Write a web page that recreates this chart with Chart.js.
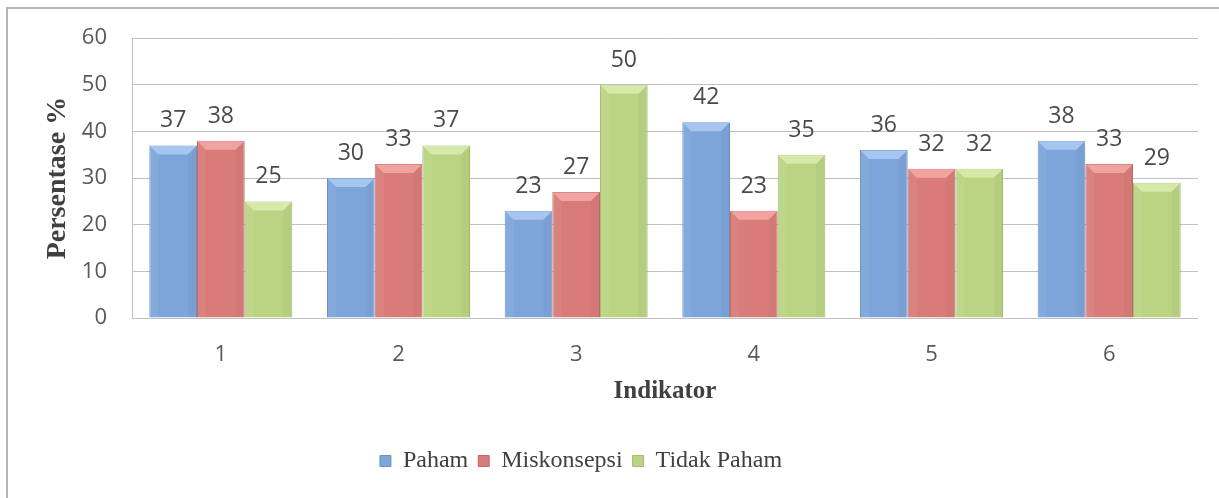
<!DOCTYPE html>
<html>
<head>
<meta charset="utf-8">
<script src="https://cdn.jsdelivr.net/npm/chart.js@4/dist/chart.umd.min.js"></script>
<style>
  html, body { margin: 0; padding: 0; background: #ffffff; }
  #wrap { position: relative; width: 1219px; height: 498px; }
</style>
</head>
<body>
<div id="wrap"><canvas id="c" width="1219" height="498"></canvas></div>
<script>
const categories = ['1', '2', '3', '4', '5', '6'];
const paham = [37, 30, 23, 42, 36, 38];
const miskonsepsi = [38, 33, 27, 23, 32, 33];
const tidakPaham = [25, 37, 50, 35, 32, 29];
const yTicks = [0, 10, 20, 30, 40, 50, 60];

const seriesStyle = [
  { fill: '#7ea5da', top: '#a6c6f0', edge: '#6a90c6' },
  { fill: '#d97c79', top: '#f0a3a0', edge: '#c06a67' },
  { fill: '#bbd483', top: '#d6e9a8', edge: '#a3bd6c' }
];

const framePlugin = {
  id: 'frame',
  beforeDraw(chart) {
    const ctx = chart.ctx;
    ctx.save();
    ctx.fillStyle = '#ffffff';
    ctx.fillRect(0, 0, chart.width, chart.height);
    ctx.strokeStyle = '#b4b4b4';
    ctx.lineWidth = 2;
    ctx.beginPath();
    ctx.moveTo(7, chart.height);
    ctx.lineTo(7, 8);
    ctx.lineTo(chart.width, 8);
    ctx.stroke();
    ctx.restore();
  },
  afterLayout(chart) {
    const lg = chart.legend;
    if (lg) { lg.left -= 18; lg.right -= 18; }
  }
};

const bevelPlugin = {
  id: 'bevel',
  afterDatasetsDraw(chart) {
    const ctx = chart.ctx;
    ctx.save();
    chart.data.datasets.forEach((ds, di) => {
      const meta = chart.getDatasetMeta(di);
      const st = seriesStyle[di];
      meta.data.forEach((el, idx) => {
        const p = el.getProps(['x', 'y', 'base', 'width'], true);
        const L = p.x - p.width / 2, R = p.x + p.width / 2;
        const T = Math.min(p.y, p.base), B = Math.max(p.y, p.base);
        const b = Math.min(9, (B - T) / 2);
        // top bevel
        ctx.fillStyle = st.top;
        ctx.beginPath();
        ctx.moveTo(L + 0.5, T + 0.5); ctx.lineTo(R - 0.5, T + 0.5);
        ctx.lineTo(R - b, T + b); ctx.lineTo(L + b, T + b); ctx.closePath();
        ctx.fill();
        // left light strip
        ctx.fillStyle = 'rgba(255,255,255,0.05)';
        ctx.beginPath();
        ctx.moveTo(L + 0.5, T + 0.5); ctx.lineTo(L + b, T + b);
        ctx.lineTo(L + b, B - 0.5); ctx.lineTo(L + 0.5, B - 0.5); ctx.closePath();
        ctx.fill();
        // right dark strip
        ctx.fillStyle = 'rgba(0,0,0,0.03)';
        ctx.beginPath();
        ctx.moveTo(R - 0.5, T + 0.5); ctx.lineTo(R - b, T + b);
        ctx.lineTo(R - b, B - 0.5); ctx.lineTo(R - 0.5, B - 0.5); ctx.closePath();
        ctx.fill();
        // value label
        ctx.fillStyle = '#4a4a4a';
        ctx.font = '23px "Open Sans", sans-serif';
        ctx.textAlign = 'center';
        ctx.textBaseline = 'alphabetic';
        ctx.fillText(String(ds.data[idx]), p.x, T - 18);
      });
    });
    ctx.restore();
  }
};

const datasets = [
  { label: 'Paham', data: paham },
  { label: 'Miskonsepsi', data: miskonsepsi },
  { label: 'Tidak Paham', data: tidakPaham }
].map((d, i) => Object.assign(d, {
  backgroundColor: seriesStyle[i].fill,
  borderColor: seriesStyle[i].edge,
  borderWidth: 1,
  categoryPercentage: 0.805,
  barPercentage: 1.0
}));

new Chart(document.getElementById('c'), {
  type: 'bar',
  data: { labels: categories, datasets },
  plugins: [framePlugin, bevelPlugin],
  options: {
    responsive: false,
    animation: false,
    devicePixelRatio: 1,
    layout: { padding: { top: 38, right: 21, left: 0, bottom: 15 } },
    plugins: {
      tooltip: { enabled: false },
      legend: {
        position: 'bottom',
        labels: {
          font: { family: '"Liberation Serif", "Times New Roman", serif', size: 24 },
          color: '#404040',
          boxWidth: 11,
          boxHeight: 11,
          padding: 10,
          generateLabels(chart) {
            return chart.data.datasets.map((ds, i) => ({
              text: ds.label,
              fillStyle: seriesStyle[i].fill,
              strokeStyle: seriesStyle[i].edge,
              lineWidth: 1,
              hidden: false,
              datasetIndex: i,
              fontColor: '#404040'
            }));
          }
        }
      }
    },
    scales: {
      x: {
        grid: { display: false },
        border: { display: false },
        ticks: {
          color: '#595959',
          font: { family: '"Open Sans", sans-serif', size: 22 },
          padding: 16
        },
        title: {
          display: true,
          text: 'Indikator',
          color: '#404040',
          font: { family: '"Liberation Serif", "Times New Roman", serif', size: 25, weight: 'bold' },
          padding: { top: 0, bottom: 32 }
        },
        afterFit(scale) { scale.height = 121; }
      },
      y: {
        min: 0,
        max: 60,
        afterBuildTicks(scale) { scale.ticks = yTicks.map(v => ({ value: v })); },
        grid: { color: '#c0c0c0', lineWidth: 1, drawTicks: false },
        border: { display: true, color: '#c0c0c0', width: 1 },
        ticks: {
          color: '#595959',
          font: { family: '"Open Sans", sans-serif', size: 22 },
          padding: 25
        },
        title: {
          display: true,
          text: 'Persentase %',
          color: '#404040',
          font: { family: '"Liberation Serif", "Times New Roman", serif', size: 28, weight: 'bold' },
          padding: { top: 41, bottom: 0 }
        },
        afterFit(scale) { scale.width = 132; }
      }
    }
  }
});
</script>
</body>
</html>
